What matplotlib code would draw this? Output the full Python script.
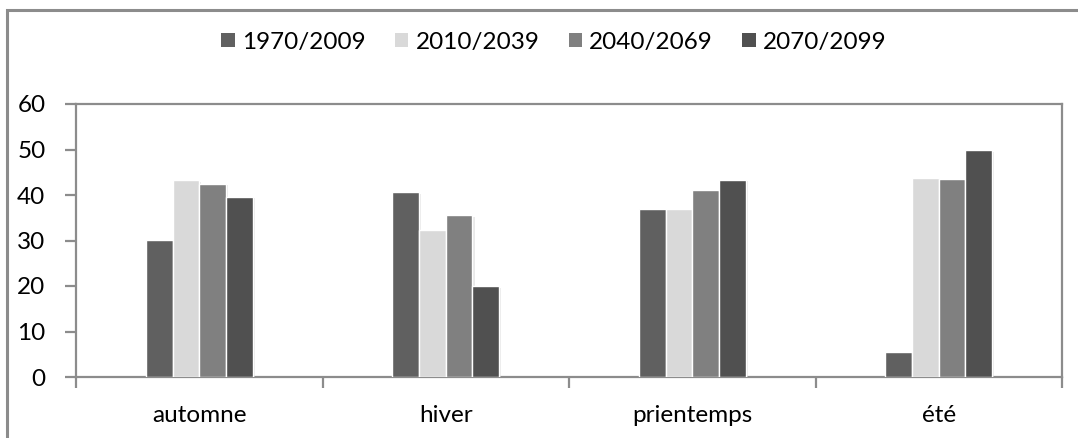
import matplotlib
matplotlib.use("Agg")
import matplotlib.pyplot as plt
import matplotlib.patches as mpatches
import matplotlib.patheffects as pe
import numpy as np

plt.rcParams['font.family'] = ['Lato', 'DejaVu Sans']

seasons = ["automne", "hiver", "prientemps", "été"]
periods = ["1970/2009", "2010/2039", "2040/2069", "2070/2099"]
v_1970_2009 = [30.2, 40.6, 37.0, 5.6]
v_2010_2039 = [43.2, 32.2, 36.9, 43.7]
v_2040_2069 = [42.4, 35.5, 41.0, 43.6]
v_2070_2099 = [39.6, 19.9, 43.4, 49.8]
series = [v_1970_2009, v_2010_2039, v_2040_2069, v_2070_2099]
colors = ["#606060", "#d9d9d9", "#808080", "#505050"]
yticks = [0, 10, 20, 30, 40, 50, 60]

W, H = 1078, 438
fig = plt.figure(figsize=(W / 100, H / 100), dpi=100)
ax = fig.add_axes([76 / W, 1 - 377 / H, (1062 - 76) / W, (377 - 104) / H])

axis_gray = "#8c8c8c"
fs = 17.5

x = np.arange(len(seasons))
bw = 0.1085
shadow = [pe.SimplePatchShadow(offset=(1.5, -1), shadow_rgbFace="#d0d0d0", alpha=0.45), pe.Normal()]
for i, (vals, col) in enumerate(zip(series, colors)):
    bars = ax.bar(x + (i - 1.5) * bw, vals, width=bw, color=col,
                  edgecolor="white", linewidth=1.0, label=periods[i], zorder=3)
    for b in bars:
        b.set_path_effects(shadow)

ax.set_xlim(-0.5, len(seasons) - 0.5)
ax.set_ylim(0, 60)
ax.set_yticks(yticks)
ax.set_xticks(x)
ax.set_xticklabels(seasons)
ax.set_xticks(np.arange(len(seasons) + 1) - 0.5, minor=True)

for s in ax.spines.values():
    s.set_color(axis_gray)
    s.set_linewidth(1.6)

ax.tick_params(axis="y", which="major", length=8, width=1.6, color=axis_gray,
               pad=14, labelsize=fs, labelcolor="black")
ax.tick_params(axis="x", which="major", length=0, pad=20, labelsize=fs, labelcolor="black")
ax.tick_params(axis="x", which="minor", length=8, width=1.6, color=axis_gray)

# outer chart frame
fig.patches.append(mpatches.Rectangle((7 / W, -0.2), 1.2, 1 - 10 / H + 0.2,
                                      transform=fig.transFigure, fill=False,
                                      edgecolor=axis_gray, linewidth=2.2, zorder=0))

handles = [mpatches.Rectangle((0, 0), 1, 1, facecolor=c, edgecolor="none") for c in colors]
fig.legend(handles, periods, loc="center", bbox_to_anchor=(554 / W, 1 - 42 / H),
           ncol=4, frameon=False, fontsize=fs, handlelength=0.55, handleheight=0.55,
           handletextpad=0.3, columnspacing=1.2)

fig.savefig("out.png", dpi=100)
